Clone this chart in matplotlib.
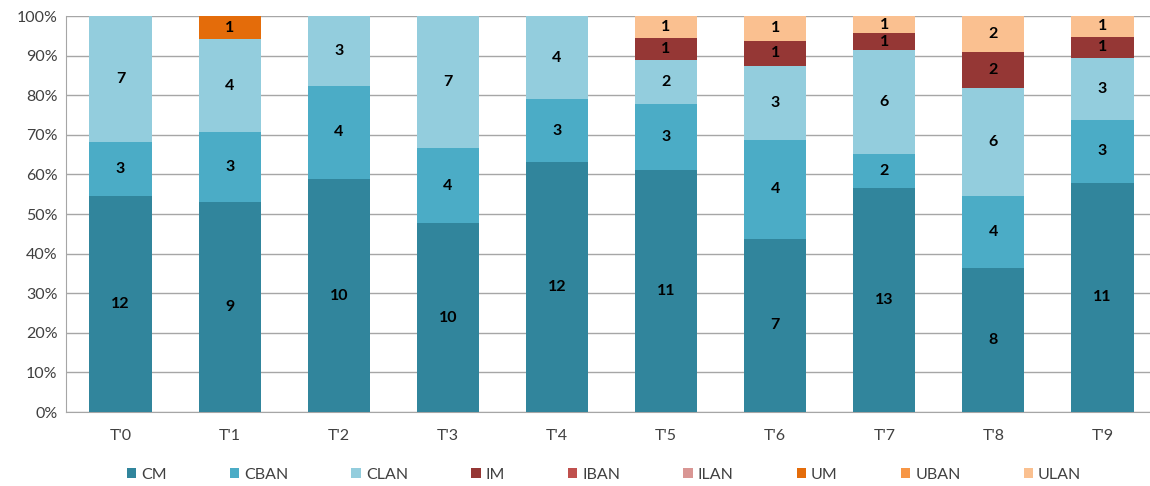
import matplotlib
matplotlib.use("Agg")
import matplotlib.pyplot as plt
import numpy as np

plt.rcParams['font.family'] = ['Lato', 'DejaVu Sans']

categories = ["T'0", "T'1", "T'2", "T'3", "T'4", "T'5", "T'6", "T'7", "T'8", "T'9"]
series_names = ["CM", "CBAN", "CLAN", "IM", "IBAN", "ILAN", "UM", "UBAN", "ULAN"]
CM   = [12, 9, 10, 10, 12, 11, 7, 13, 8, 11]
CBAN = [3, 3, 4, 4, 3, 3, 4, 2, 4, 3]
CLAN = [7, 4, 3, 7, 4, 2, 3, 6, 6, 3]
IM   = [0, 0, 0, 0, 0, 1, 1, 1, 2, 1]
IBAN = [0, 0, 0, 0, 0, 0, 0, 0, 0, 0]
ILAN = [0, 0, 0, 0, 0, 0, 0, 0, 0, 0]
UM   = [0, 1, 0, 0, 0, 0, 0, 0, 0, 0]
UBAN = [0, 0, 0, 0, 0, 0, 0, 0, 0, 0]
ULAN = [0, 0, 0, 0, 0, 1, 1, 1, 2, 1]
colors = ["#31859C", "#4BACC6", "#93CDDD", "#953735", "#C0504D", "#D99694",
          "#E46C0A", "#F79646", "#FAC090"]

data = np.array([CM, CBAN, CLAN, IM, IBAN, ILAN, UM, UBAN, ULAN], dtype=float)
totals = data.sum(axis=0)
pct = data / totals * 100

fig = plt.figure(figsize=(11.5, 4.86), dpi=100)
ax = fig.add_axes([66/1150, 1-412/486, (1157-66)/1150, (412-16)/486])

x = np.arange(len(categories))
bottom = np.zeros(len(categories))
for i, name in enumerate(series_names):
    ax.bar(x, pct[i], 0.57, bottom=bottom, color=colors[i], label=name, zorder=3,
           edgecolor='none')
    for j in range(len(categories)):
        if data[i, j] > 0:
            ax.text(x[j], bottom[j] + pct[i, j] / 2, f"{int(data[i, j])}",
                    ha='center', va='center', fontsize=11.5, fontweight='bold',
                    color='black', zorder=4)
    bottom += pct[i]

ax.set_xlim(-0.5, len(categories) - 0.5)
ax.set_ylim(0, 100)
ax.set_yticks(np.arange(0, 101, 10))
ax.set_yticklabels([f"{v}%" for v in range(0, 101, 10)])
ax.set_xticks(x)
ax.set_xticklabels(categories)
ax.tick_params(axis='both', length=0, labelsize=11.5, colors='#404040')
ax.tick_params(axis='x', pad=12)
ax.tick_params(axis='y', pad=6)
ax.grid(axis='y', color='#A6A6A6', linewidth=1, zorder=0)
for s in ['top', 'right']:
    ax.spines[s].set_visible(False)
ax.spines['left'].set_color('#A6A6A6')
ax.spines['bottom'].set_color('#A6A6A6')

leg = fig.legend(loc='center', bbox_to_anchor=(604/1150, 1-475/486), ncol=9, frameon=False,
                 fontsize=11.5, handlelength=0.6, handleheight=0.6, columnspacing=3.95,
                 handletextpad=0.3)
for t in leg.get_texts():
    t.set_color('#404040')

fig.savefig("out.png", dpi=100)
